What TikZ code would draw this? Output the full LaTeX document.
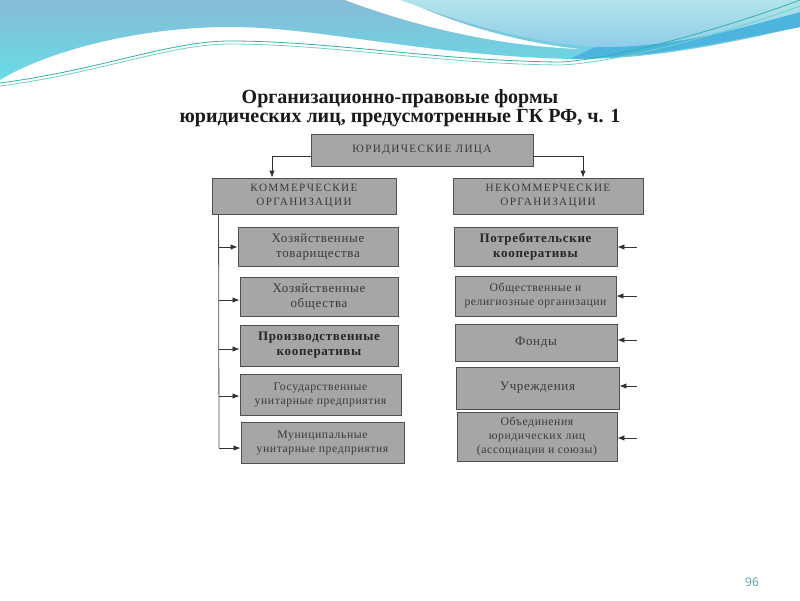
\documentclass[tikz,border=0pt]{standalone}
\usepackage{fontspec}
\setmainfont{Liberation Serif}
\newfontfamily\capsfont[LetterSpace=12]{Liberation Serif}
\newfontfamily\boxfont[LetterSpace=5]{Liberation Serif}
\newfontfamily\numfont{Open Sans}
\usetikzlibrary{arrows.meta}

\definecolor{boxgray}{HTML}{A6A6A6}
\definecolor{boxline}{HTML}{505050}
\definecolor{boxtext}{HTML}{3A3A3A}
\definecolor{waveTop}{HTML}{88BBD8}
\definecolor{waveBottom}{HTML}{66DCE6}
\definecolor{waveLightTop}{HTML}{B2E4EA}
\definecolor{waveLightBottom}{HTML}{8ECCEA}
\definecolor{waveDark}{HTML}{4DB4E0}
\definecolor{waveLine}{HTML}{2FB3A6}
\definecolor{waveLineLight}{HTML}{6CD2C6}
\definecolor{pagenum}{HTML}{5A98B0}

\begin{document}
\begin{tikzpicture}[x=1pt, y=-1pt]
    % Define styles
    \tikzset{
        orgbox/.style={
            draw=boxline,
            fill=boxgray,
            line width=0.9pt,
            align=center,
            text=boxtext,
            inner sep=1pt,
            font=\boxfont\fontsize{13}{15}\selectfont
        },
        capsbox/.style={
            orgbox,
            font=\capsfont\fontsize{11.2}{14}\selectfont
        },
        smallbox/.style={
            orgbox,
            font=\boxfont\fontsize{11.7}{14}\selectfont
        },
        boldbox/.style={
            orgbox,
            text=black!85,
            font=\boxfont\bfseries\fontsize{13}{15}\selectfont
        },
        link/.style={
            -{Latex[length=7pt,width=5.5pt]},
            line width=0.8pt,
            draw=black!80
        },
        spine/.style={
            line width=0.8pt,
            draw=black!70
        }
    }

    % Page
    \useasboundingbox (0,0) rectangle (800,600);
    \fill[white] (0,0) rectangle (800,600);

    % Waves at the top
    \shade[top color=waveTop, bottom color=waveBottom]
        (0,0) -- (0,80) .. controls (40,55) and (130,27) .. (230,27)
        .. controls (320,27) and (420,55) .. (570,59)
        .. controls (660,60) and (740,40) .. (800,27) -- (800,0) -- cycle;
    \fill[waveDark]
        (570,59) .. controls (660,58) and (740,38) .. (800,27)
        -- (800,12) .. controls (750,25) and (680,48) .. (595,47) -- cycle;
    \fill[white]
        (345,0) .. controls (420,28) and (500,46) .. (580,49)
        .. controls (510,42) and (440,18) .. (405,0) -- cycle;
    \shade[top color=waveLightTop, bottom color=waveLightBottom]
        (400,0) .. controls (450,18) and (520,42) .. (595,47)
        .. controls (680,48) and (750,25) .. (800,12) -- (800,0) -- cycle;
    \draw[waveLine, line width=0.8pt]
        (0,83) .. controls (100,70) and (170,41) .. (230,41)
        .. controls (330,41) and (440,61) .. (560,62)
        .. controls (610,60) and (720,30) .. (800,0);
    \draw[waveLineLight, line width=0.8pt]
        (0,86) .. controls (100,73) and (170,44) .. (230,44)
        .. controls (330,44) and (440,64) .. (560,65)
        .. controls (615,63) and (725,34) .. (800,6);

    % Title
    \node[anchor=base, font=\bfseries\fontsize{20}{20}\selectfont, text=black!90] (title1) at (400,103) {Организационно-правовые формы};
    \node[anchor=base, font=\bfseries\fontsize{20}{20}\selectfont, text=black!90] (title2) at (400,122) {юридических лиц, предусмотренные ГК РФ, ч. 1};

    % Top level
    \node[capsbox, minimum width=222pt, minimum height=32pt] (top) at (422,150) {ЮРИДИЧЕСКИЕ ЛИЦА};
    \node[capsbox, minimum width=184pt, minimum height=36pt] (kom) at (304,196) {КОММЕРЧЕСКИЕ\\ОРГАНИЗАЦИИ};
    \node[capsbox, minimum width=190pt, minimum height=36pt] (nekom) at (548,196) {НЕКОММЕРЧЕСКИЕ\\ОРГАНИЗАЦИИ};

    \draw[link] ([yshift=-6pt]top.west) -| ([xshift=-32pt]kom.north);
    \draw[link] ([yshift=-6pt]top.east) -| ([xshift=35pt]nekom.north);

    % Commercial organisations
    \node[orgbox, minimum width=160pt, minimum height=39pt] (k1) at (318,246.5) {Хозяйственные\\товарищества};
    \node[orgbox, minimum width=158pt, minimum height=39pt] (k2) at (319,296.5) {Хозяйственные\\общества};
    \node[boldbox, minimum width=158pt, minimum height=41pt] (k3) at (319,345.5) {Производственные\\кооперативы};
    \node[smallbox, minimum width=161pt, minimum height=41pt] (k4) at (320.5,394.5) {Государственные\\унитарные предприятия};
    \node[smallbox, minimum width=163pt, minimum height=41pt] (k5) at (322.5,442.5) {Муниципальные\\унитарные предприятия};

    % Non-commercial organisations
    \node[boldbox, minimum width=163pt, minimum height=39pt] (n1) at (535.5,246.5) {Потребительские\\кооперативы};
    \node[smallbox, minimum width=161pt, minimum height=40pt] (n2) at (535.5,296) {Общественные и\\религиозные организации};
    \node[orgbox, minimum width=162pt, minimum height=37pt] (n3) at (536,342.5) {Фонды};
    \node[orgbox, minimum width=163pt, minimum height=42pt] (n4) at (537.5,388) {Учреждения};
    \node[smallbox, minimum width=160pt, minimum height=49pt] (n5) at (537,436.5) {Объединения\\юридических лиц\\(ассоциации и союзы)};

    % Left spine with arrows
    \coordinate (spineTop) at ([xshift=7pt]kom.south west);
    \coordinate (spineEnd) at (219,448);
    \draw[spine] (spineTop) -- (spineEnd);
    \foreach \n/\y in {1/247, 2/300, 3/349, 4/396, 5/448} {
        \coordinate (s\n) at (219,\y);
        \draw[link] (s\n) -- (s\n -| k\n.west);
    }

    % Right arrows
    \foreach \n/\y in {1/247, 2/296, 3/340, 4/386, 5/438} {
        \coordinate (r\n) at (637,\y);
        \draw[link] (r\n) -- (r\n -| n\n.east);
    }

    % Page number
    \node[anchor=base, font=\numfont\fontsize{12}{12}\selectfont, text=pagenum] (page) at (752,586) {96};
\end{tikzpicture}
\end{document}
